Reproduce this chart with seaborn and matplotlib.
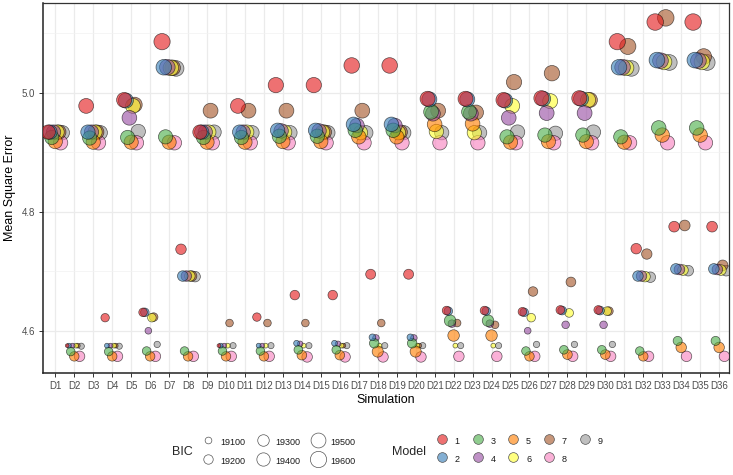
import numpy as np
import pandas as pd
import matplotlib
matplotlib.use("Agg")
import matplotlib.pyplot as plt
from matplotlib.lines import Line2D
from matplotlib.colors import to_rgba
import seaborn as sns

# ---------------- data ----------------
simulations = ["D1", "D2", "D3", "D4", "D5", "D6", "D7", "D8", "D9", "D10", "D11", "D12",
               "D13", "D14", "D15", "D16", "D17", "D18", "D19", "D20", "D21", "D22", "D23", "D24",
               "D25", "D26", "D27", "D28", "D29", "D30", "D31", "D32", "D33", "D34", "D35", "D36"]
models = [1, 2, 3, 4, 5, 6, 7, 8, 9]
model_colors = ["#E41A1C", "#377EB8", "#4DAF4A", "#984EA3", "#FF7F00",
                "#FFFF33", "#A65628", "#F781BF", "#999999"]
bic_breaks = [19100, 19200, 19300, 19400, 19500, 19600]

mse_m1 = [4.934, 4.575, 4.978, 4.622, 4.988, 4.631, 5.086, 4.737, 4.934, 4.575, 4.978, 4.623,
          5.013, 4.660, 5.013, 4.660, 5.046, 4.695, 5.046, 4.695, 4.990, 4.634, 4.990, 4.634,
          4.988, 4.632, 4.991, 4.635, 4.991, 4.635, 5.086, 4.738, 5.119, 4.775, 5.119, 4.775]
mse_m2 = [4.934, 4.575, 4.934, 4.575, 4.987, 4.631, 5.043, 4.692, 4.934, 4.575, 4.934, 4.575,
          4.937, 4.579, 4.937, 4.579, 4.947, 4.589, 4.947, 4.589, 4.989, 4.633, 4.989, 4.633,
          4.987, 4.631, 4.990, 4.634, 4.990, 4.634, 5.043, 4.692, 5.055, 4.704, 5.055, 4.704]
mse_m3 = [4.925, 4.565, 4.924, 4.565, 4.925, 4.566, 4.926, 4.566, 4.925, 4.566, 4.925, 4.566,
          4.927, 4.568, 4.927, 4.568, 4.937, 4.579, 4.937, 4.579, 4.968, 4.617, 4.968, 4.617,
          4.926, 4.566, 4.929, 4.568, 4.929, 4.568, 4.926, 4.566, 4.941, 4.583, 4.941, 4.583]
mse_m4 = [4.934, 4.575, 4.934, 4.575, 4.958, 4.600, 5.043, 4.692, 4.934, 4.575, 4.934, 4.575,
          4.936, 4.578, 4.936, 4.578, 4.945, 4.588, 4.945, 4.588, 4.965, 4.612, 4.965, 4.612,
          4.958, 4.600, 4.966, 4.610, 4.966, 4.610, 5.043, 4.692, 5.054, 4.703, 5.054, 4.703]
mse_m5 = [4.918, 4.557, 4.917, 4.557, 4.917, 4.557, 4.917, 4.557, 4.917, 4.557, 4.917, 4.557,
          4.918, 4.559, 4.918, 4.559, 4.926, 4.565, 4.926, 4.565, 4.947, 4.592, 4.948, 4.592,
          4.917, 4.557, 4.918, 4.560, 4.918, 4.560, 4.917, 4.557, 4.929, 4.572, 4.929, 4.572]
mse_m6 = [4.934, 4.575, 4.934, 4.575, 4.978, 4.622, 5.042, 4.692, 4.934, 4.575, 4.934, 4.575,
          4.934, 4.575, 4.934, 4.575, 4.933, 4.575, 4.933, 4.575, 4.935, 4.575, 4.933, 4.575,
          4.978, 4.622, 4.986, 4.630, 4.988, 4.633, 5.042, 4.691, 5.052, 4.702, 5.052, 4.702]
mse_m7 = [4.934, 4.575, 4.934, 4.575, 4.980, 4.623, 5.042, 4.692, 4.970, 4.613, 4.970, 4.613,
          4.970, 4.613, 4.934, 4.575, 4.970, 4.613, 4.934, 4.575, 4.970, 4.613, 4.967, 4.610,
          5.018, 4.666, 5.033, 4.682, 4.988, 4.633, 5.078, 4.729, 5.126, 4.777, 5.061, 4.710]
mse_m8 = [4.916, 4.557, 4.916, 4.557, 4.916, 4.557, 4.916, 4.557, 4.916, 4.557, 4.916, 4.557,
          4.916, 4.556, 4.916, 4.556, 4.916, 4.556, 4.916, 4.556, 4.916, 4.557, 4.916, 4.557,
          4.916, 4.557, 4.916, 4.557, 4.916, 4.557, 4.916, 4.557, 4.916, 4.557, 4.916, 4.557]
mse_m9 = [4.933, 4.574, 4.933, 4.574, 4.935, 4.577, 5.041, 4.691, 4.934, 4.575, 4.933, 4.575,
          4.933, 4.575, 4.933, 4.575, 4.933, 4.575, 4.933, 4.575, 4.933, 4.575, 4.933, 4.575,
          4.934, 4.577, 4.932, 4.577, 4.934, 4.577, 5.041, 4.690, 5.051, 4.701, 5.051, 4.701]

bic_m1 = [19465, 19030, 19500, 19160, 19510, 19165, 19600, 19250, 19465, 19030, 19500, 19160,
          19530, 19205, 19530, 19205, 19550, 19225, 19550, 19225, 19510, 19165, 19510, 19165,
          19510, 19165, 19515, 19170, 19515, 19170, 19600, 19250, 19620, 19260, 19620, 19260]
bic_m2 = [19465, 19050, 19465, 19050, 19510, 19165, 19550, 19250, 19465, 19050, 19465, 19050,
          19470, 19075, 19470, 19075, 19480, 19100, 19480, 19100, 19510, 19165, 19510, 19165,
          19510, 19165, 19515, 19170, 19515, 19170, 19550, 19250, 19560, 19255, 19560, 19255]
bic_m3 = [19460, 19165, 19460, 19165, 19460, 19165, 19460, 19165, 19460, 19165, 19460, 19165,
          19465, 19170, 19465, 19170, 19475, 19205, 19475, 19205, 19500, 19300, 19500, 19300,
          19460, 19165, 19465, 19170, 19465, 19170, 19460, 19165, 19480, 19185, 19480, 19185]
bic_m4 = [19465, 19050, 19465, 19050, 19490, 19100, 19550, 19250, 19465, 19050, 19465, 19050,
          19470, 19070, 19470, 19070, 19480, 19095, 19480, 19095, 19500, 19130, 19500, 19130,
          19490, 19100, 19500, 19130, 19500, 19130, 19550, 19250, 19560, 19255, 19560, 19255]
bic_m5 = [19460, 19205, 19460, 19205, 19460, 19205, 19460, 19205, 19460, 19205, 19460, 19205,
          19460, 19210, 19460, 19210, 19470, 19280, 19470, 19280, 19490, 19300, 19490, 19300,
          19460, 19205, 19460, 19215, 19460, 19215, 19460, 19205, 19475, 19250, 19475, 19250]
bic_m6 = [19465, 19050, 19465, 19050, 19500, 19165, 19550, 19250, 19465, 19050, 19465, 19050,
          19465, 19050, 19465, 19050, 19465, 19050, 19465, 19050, 19470, 19050, 19465, 19050,
          19500, 19165, 19510, 19170, 19510, 19170, 19550, 19250, 19560, 19255, 19560, 19255]
bic_m7 = [19465, 19050, 19465, 19050, 19510, 19165, 19550, 19250, 19500, 19130, 19500, 19130,
          19500, 19130, 19465, 19050, 19500, 19130, 19465, 19050, 19500, 19130, 19500, 19130,
          19530, 19205, 19540, 19215, 19510, 19170, 19590, 19245, 19620, 19260, 19560, 19255]
bic_m8 = [19470, 19250, 19470, 19250, 19470, 19250, 19470, 19250, 19470, 19250, 19470, 19250,
          19470, 19250, 19470, 19250, 19470, 19250, 19470, 19250, 19470, 19250, 19470, 19250,
          19470, 19250, 19470, 19250, 19470, 19250, 19470, 19250, 19470, 19250, 19470, 19250]
bic_m9 = [19465, 19085, 19465, 19085, 19470, 19090, 19550, 19250, 19465, 19085, 19465, 19085,
          19465, 19085, 19465, 19085, 19465, 19085, 19465, 19085, 19465, 19085, 19465, 19085,
          19470, 19090, 19465, 19090, 19470, 19090, 19550, 19250, 19560, 19255, 19560, 19255]

mse_series = [mse_m1, mse_m2, mse_m3, mse_m4, mse_m5, mse_m6, mse_m7, mse_m8, mse_m9]
bic_series = [bic_m1, bic_m2, bic_m3, bic_m4, bic_m5, bic_m6, bic_m7, bic_m8, bic_m9]

rows = []
for m, mse, bic in zip(models, mse_series, bic_series):
    for i, (sim, v, b) in enumerate(zip(simulations, mse, bic)):
        rows.append({"Simulation": sim, "pos": i + 1, "model_num": m,
                     "Model": str(m), "MSE": v, "BIC": b})
df = pd.DataFrame(rows)

# dodge points by model within each simulation (like position_dodge)
DODGE_STEP = 0.093
df["x"] = df["pos"] + (df["model_num"] - 5) * DODGE_STEP
df = df.sort_values("model_num", ascending=False, kind="stable")

# ---------------- style ----------------
sns.set_style("white")
plt.rcParams["font.family"] = ["Liberation Sans", "DejaVu Sans"]

W, H = 733, 475
fig = plt.figure(figsize=(W / 100, H / 100), dpi=100)
ax = fig.add_axes([43 / W, 1 - 373 / H, (729 - 43) / W, (373 - 3) / H])

palette = {str(m): c for m, c in zip(models, model_colors)}
SIZES = (0.5, 160)
SIZE_NORM = (19000, 19700)
ALPHA = 0.62

sns.scatterplot(data=df, x="x", y="MSE", hue="Model", size="BIC",
                palette=palette, hue_order=[str(m) for m in models],
                sizes=SIZES, size_norm=SIZE_NORM, alpha=ALPHA,
                edgecolor="black", linewidth=0.5, legend=False, ax=ax, zorder=3)

ax.set_xlim(0.352, 36.52)
ax.set_ylim(4.529, 5.151)
ax.set_xticks(range(1, len(simulations) + 1))
ax.set_xticklabels(simulations)
ax.set_yticks([4.6, 4.8, 5.0])
ax.set_yticklabels(["4.6", "4.8", "5.0"])
ax.set_yticks([4.7, 4.9, 5.1], minor=True)

ax.set_axisbelow(True)
ax.grid(which="major", color="#EBEBEB", linewidth=0.9)
ax.yaxis.grid(True, which="minor", color="#F2F2F2", linewidth=0.5)
ax.xaxis.grid(True, which="major", color="#EBEBEB", linewidth=0.9)

for side in ["left", "bottom"]:
    ax.spines[side].set_color("#222222")
    ax.spines[side].set_linewidth(1.1)
for side in ["top", "right"]:
    ax.spines[side].set_color("#333333")
    ax.spines[side].set_linewidth(0.9)

ax.tick_params(axis="both", which="major", length=3, width=0.7, color="#333333",
               labelsize=7, labelcolor="#4D4D4D", pad=2.5, direction="out",
               bottom=True, left=True)
ax.tick_params(which="minor", length=0)

ax.set_xlabel("Simulation", fontsize=9, color="black")
ax.set_ylabel("Mean Square Error", fontsize=9, color="black")
ax.xaxis.set_label_coords(0.5, -0.058)
ax.yaxis.set_label_coords(-0.040, 0.5)

# ---------------- legends ----------------
s_lo, s_hi = SIZES
n_lo, n_hi = SIZE_NORM
bic_handles = [Line2D([], [], linestyle="", marker="o",
                      markersize=np.sqrt(s_lo + (s_hi - s_lo) * (b - n_lo) / (n_hi - n_lo)),
                      markerfacecolor="white", markeredgecolor="#555555", markeredgewidth=0.5)
               for b in bic_breaks]
leg1 = fig.legend(bic_handles, [str(b) for b in bic_breaks], ncol=3,
                  loc="center left", bbox_to_anchor=(199 / W, 1 - 451.5 / H),
                  frameon=False, fontsize=6.5, handlelength=2.0, handleheight=2.0,
                  handletextpad=0.4, columnspacing=0.9, labelspacing=0.5,
                  borderpad=0, borderaxespad=0, labelcolor="#1A1A1A")

model_handles = [Line2D([], [], linestyle="", marker="o", markersize=7,
                        markerfacecolor=to_rgba(c, ALPHA), markeredgecolor="#555555",
                        markeredgewidth=0.5)
                 for c in model_colors]
leg2 = fig.legend(model_handles, [str(m) for m in models], ncol=5,
                  loc="center left", bbox_to_anchor=(433 / W, 1 - 450 / H),
                  frameon=False, fontsize=6.5, handlelength=2.0, handleheight=2.0,
                  handletextpad=0.4, columnspacing=1.0, labelspacing=0.5,
                  borderpad=0, borderaxespad=0, labelcolor="#1A1A1A")

fig.text(182 / W, 1 - 452 / H, "BIC", fontsize=9, ha="center", va="center")
fig.text(409 / W, 1 - 452 / H, "Model", fontsize=9, ha="center", va="center")

fig.savefig("out.png", dpi=100)
